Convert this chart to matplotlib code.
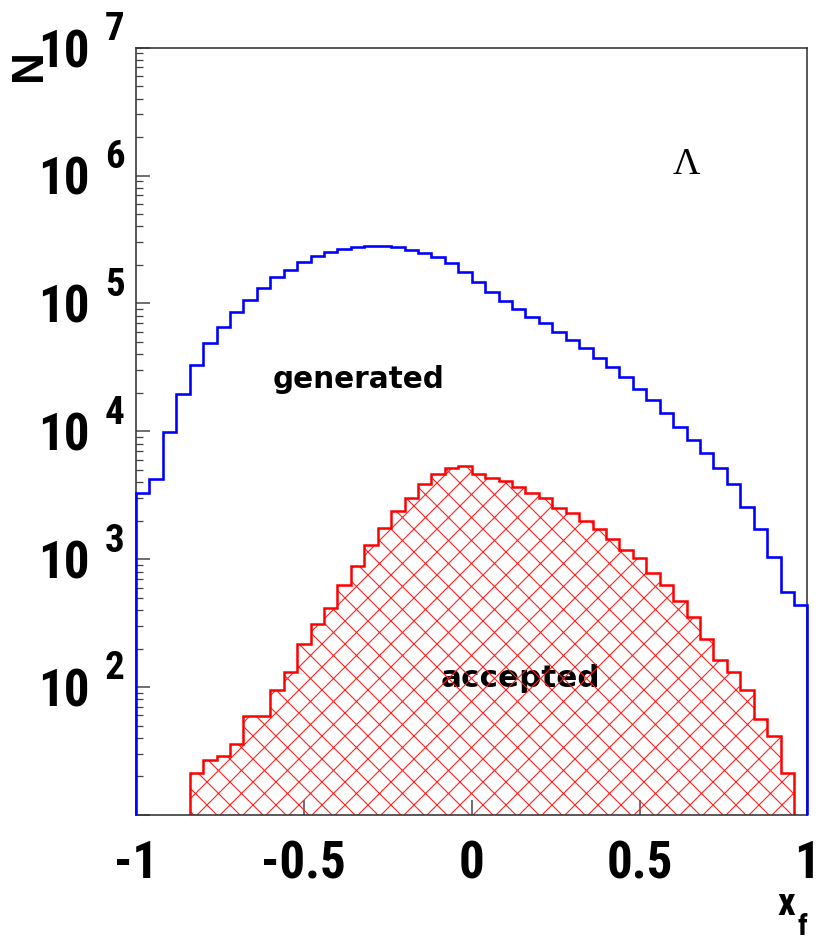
import numpy as np
import matplotlib
matplotlib.use("Agg")
import matplotlib.pyplot as plt
from matplotlib.ticker import LogLocator, NullFormatter, FixedLocator

# ---- data: x_F distributions of Lambda, 50 bins on [-1, 1] ----
bin_edges = np.linspace(-1.0, 1.0, 51)

generated = [
    3320, 4230, 9860, 19500, 33000, 48600, 65800, 86100, 107000, 133000,
    160000, 184000, 211000, 235000, 251000, 266000, 277000, 281000, 281000, 274000,
    262000, 246000, 230000, 206000, 176000, 147000, 123000, 105000, 90800, 78700,
    69700, 60000, 52000, 44500, 37600, 32000, 26400, 21600, 17600, 14000,
    10800, 8590, 6760, 5150, 3870, 2580, 1720, 1040, 558, 439,
]

accepted = [
    0, 0, 0, 0, 21.2, 26.9, 29, 35.9, 59.8, 59.8,
    94, 132, 218, 312, 416, 630, 891, 1280, 1760, 2390,
    3030, 3880, 4620, 5200, 5370, 4640, 4350, 4050, 3660, 3320,
    3000, 2510, 2290, 1995, 1720, 1440, 1180, 1020, 778, 630,
    467, 350, 237, 163, 131, 95, 56, 41.5, 21.2, 0,
]

x_ticks = [-1, -0.5, 0, 0.5, 1]
x_tick_labels = ["-1", "-0.5", "0", "0.5", "1"]
y_exponents = [2, 3, 4, 5, 6, 7]
y_min, y_max = 10, 1e7

# ---- figure geometry (pixels) ----
W, H, DPI = 817, 937, 138


def px(v):
    """pixels -> points"""
    return v * 72.0 / DPI


NARROW = ["Roboto Condensed", "Liberation Sans Narrow", "Liberation Sans"]
plt.rcParams["hatch.linewidth"] = px(1.1)
plt.rcParams["axes.unicode_minus"] = False

fig = plt.figure(figsize=((W + 0.4) / DPI, (H + 0.4) / DPI), dpi=DPI)
ax_l, ax_r, ax_t, ax_b = 136, 807, 48, 815
ax = fig.add_axes([ax_l / W, (H - ax_b) / H, (ax_r - ax_l) / W, (ax_b - ax_t) / H])

ax.set_yscale("log")
ax.set_xlim(-1, 1)
ax.set_ylim(y_min, y_max)

gen = np.asarray(generated, dtype=float)
acc = np.asarray(accepted, dtype=float)

# accepted: hatched area over the non-empty bins
nz = np.nonzero(acc > 0)[0]
lo, hi = nz[0], nz[-1] + 1
acc_vals = acc[lo:hi]
acc_edges = bin_edges[lo:hi + 1]

ax.stairs(acc_vals, acc_edges, baseline=y_min, fill=True, hatch="xx",
          facecolor="none", edgecolor="#ff2020", linewidth=0, zorder=3)
ax.stairs(acc_vals, acc_edges, baseline=y_min, fill=False,
          color="#ff0000", linewidth=px(2.5), zorder=4)

# generated: outline only, drawn over the frame at both ends
ax.stairs(gen, bin_edges, baseline=y_min, fill=False,
          color="#0000ff", linewidth=px(2.6), zorder=6, clip_on=False)

# ---- axes styling ----
for s in ax.spines.values():
    s.set_linewidth(px(1.6))
    s.set_color("#333333")
    s.set_zorder(5)

LBL_PX = 51
ax.xaxis.set_major_locator(FixedLocator(x_ticks))
ax.set_xticklabels(x_tick_labels)
ax.tick_params(axis="x", which="major", direction="in", length=px(15), width=px(1.5),
               color="#444444", pad=px(24), labelsize=px(LBL_PX), top=False)
ax.tick_params(axis="x", which="minor", bottom=False, top=False)
for lbl in ax.get_xticklabels():
    lbl.set_family(NARROW)
    lbl.set_weight("bold")

ax.yaxis.set_major_locator(LogLocator(base=10, numticks=20))
ax.yaxis.set_minor_locator(LogLocator(base=10, subs=np.arange(2, 10), numticks=20))
ax.yaxis.set_major_formatter(NullFormatter())
ax.yaxis.set_minor_formatter(NullFormatter())
ax.tick_params(axis="y", which="major", direction="in", length=px(14), width=px(1.5),
               color="#444444", right=False)
ax.tick_params(axis="y", which="minor", direction="in", length=px(7), width=px(1.3),
               color="#444444", right=False)

# y tick labels written as "10" with a raised exponent
for k in y_exponents:
    ax.annotate("10", xy=(0, 10.0 ** k), xycoords=("axes fraction", "data"),
                xytext=(-46, -19), textcoords="offset pixels",
                ha="right", va="baseline", fontsize=px(LBL_PX),
                family=NARROW, weight="bold", annotation_clip=False)
    ax.annotate(str(k), xy=(0, 10.0 ** k), xycoords=("axes fraction", "data"),
                xytext=(-31, 8), textcoords="offset pixels",
                ha="left", va="baseline", fontsize=px(39),
                family=NARROW, weight="bold", annotation_clip=False)

# axis titles
fig.text(29 / W, 1 - 49 / H, "N", rotation=90, ha="center", va="top",
         fontsize=px(44), family=["Liberation Sans", "DejaVu Sans"], weight="bold")
fig.text(795 / W, 1 - 915 / H, "x", ha="right", va="baseline",
         fontsize=px(39), family=NARROW, weight="bold")
fig.text(797 / W, 1 - 935 / H, "f", ha="left", va="baseline",
         fontsize=px(30), family=NARROW, weight="bold")

# annotations inside the frame
ax.text((272 - ax_l) / (ax_r - ax_l), (ax_b - 388) / (ax_b - ax_t), "generated",
        transform=ax.transAxes, ha="left", va="baseline", fontsize=px(29.5),
        family="DejaVu Sans", weight="bold", zorder=2)
ax.text((440 - ax_l) / (ax_r - ax_l), (ax_b - 687) / (ax_b - ax_t), "accepted",
        transform=ax.transAxes, ha="left", va="baseline", fontsize=px(31),
        family="DejaVu Sans", weight="bold", zorder=2)
ax.text((686 - ax_l) / (ax_r - ax_l), (ax_b - 165) / (ax_b - ax_t), "\u039b",
        transform=ax.transAxes, ha="center", va="center", fontsize=px(38),
        family=["Liberation Serif", "DejaVu Serif"], zorder=2)

fig.savefig("out.png", dpi=DPI, facecolor="white")
